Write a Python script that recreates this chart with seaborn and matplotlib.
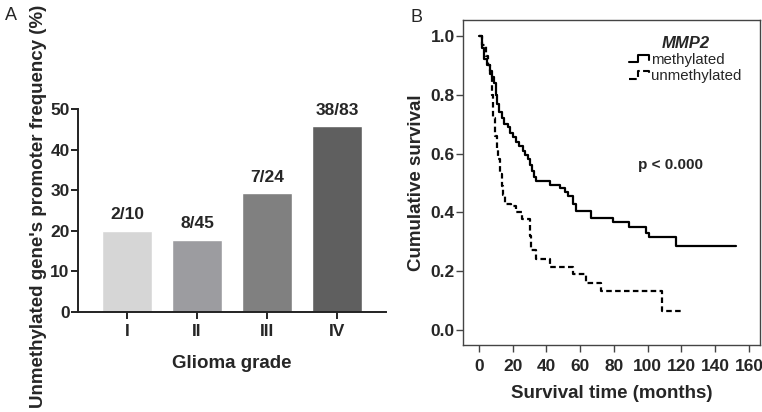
import matplotlib
matplotlib.use("agg")
import matplotlib.pyplot as plt
import pandas as pd
import seaborn as sns
from matplotlib.legend_handler import HandlerBase
from matplotlib.lines import Line2D

# Panel A data
grades = ["I", "II", "III", "IV"]
frequency = [20.0, 17.8, 29.2, 45.8]
fractions = ["2/10", "8/45", "7/24", "38/83"]
bar_colors = ["#d6d6d6", "#9c9ca0", "#808080", "#5f5f5f"]

# Panel B data (Kaplan-Meier steps)
meth_time = [0, 2, 3, 5, 6.5, 8, 9, 10, 11, 12, 13.5, 15, 17, 18.5, 20, 22, 24, 26, 27.5,
             29, 30.5, 31.5, 32.5, 34, 42, 48, 51, 53, 56, 57.5, 66.5, 79.5, 89, 99, 101,
             116.5, 152]
meth_surv = [1.0, 0.96, 0.92, 0.90, 0.88, 0.86, 0.84, 0.80, 0.77, 0.74, 0.72, 0.70, 0.69,
             0.67, 0.655, 0.64, 0.625, 0.61, 0.595, 0.58, 0.56, 0.54, 0.52, 0.505, 0.492,
             0.482, 0.47, 0.455, 0.43, 0.405, 0.38, 0.367, 0.35, 0.33, 0.315, 0.284, 0.284]
unmeth_time = [0, 2, 4, 5.5, 6.5, 7.5, 8.5, 9.5, 10.5, 11.5, 12.5, 13.5, 14.5, 15.5, 19, 22,
               25.5, 30, 31, 34, 42, 56, 63.5, 72.5, 108.5, 120.5]
unmeth_surv = [1.0, 0.97, 0.93, 0.90, 0.87, 0.80, 0.72, 0.66, 0.62, 0.58, 0.53, 0.49, 0.46,
               0.43, 0.42, 0.40, 0.376, 0.32, 0.272, 0.24, 0.215, 0.19, 0.161, 0.134, 0.066,
               0.066]

DASH = (0, (2.5, 1.5))


class StepHandler(HandlerBase):
    """Legend key drawn as a small step, like the SPSS survival legend."""

    def create_artists(self, legend, orig_handle, xdescent, ydescent, width, height,
                       fontsize, trans):
        xs = [f * width - xdescent for f in (0, 0.45, 0.45, 0.95, 0.95)]
        ys = [f * height - ydescent for f in (0.15, 0.15, 0.85, 0.85, 0.4)]
        line = Line2D(xs, ys, color=orig_handle.get_color(),
                      linestyle=orig_handle.get_linestyle(),
                      linewidth=orig_handle.get_linewidth())
        line.set_transform(trans)
        return [line]


sns.set_theme(style="ticks")
plt.rcParams["font.family"] = ["Liberation Sans", "DejaVu Sans"]

fig = plt.figure(figsize=(7.62, 4.12), dpi=100)
W, H = 762, 412

# ---- Panel A: bar chart ----
ax_a = fig.add_axes([78 / W, 1 - 312 / H, 308 / W, 203 / H])
bar_df = pd.DataFrame({"grade": grades, "freq": frequency})
sns.barplot(data=bar_df, x="grade", y="freq", hue="grade", palette=bar_colors,
            legend=False, width=0.71, saturation=1, ax=ax_a)
for cont, lab in zip(ax_a.containers, fractions):
    ax_a.bar_label(cont, labels=[lab], padding=6, fontsize=12.5, fontweight="bold")

ax_a.set_xlim(-0.7, 3.7)
ax_a.set_ylim(0, 50)
ax_a.set_yticks([0, 10, 20, 30, 40, 50])
sns.despine(ax=ax_a)
for s in ["left", "bottom"]:
    ax_a.spines[s].set_linewidth(1.4)
    ax_a.spines[s].set_color("#222222")
ax_a.tick_params(axis="both", length=5, width=1.4, color="#222222", labelsize=12.5, pad=1)
ax_a.tick_params(axis="x", pad=4)
for t in ax_a.get_xticklabels() + ax_a.get_yticklabels():
    t.set_fontweight("bold")
ax_a.set_xlabel("Glioma grade", fontsize=13.5, fontweight="bold", labelpad=11)
ax_a.set_ylabel("Unmethylated gene's promoter frequency (%)", fontsize=13.5,
                fontweight="bold")
ax_a.yaxis.set_label_coords(-31 / 308, 0.52)

# ---- Panel B: survival curves ----
ax_b = fig.add_axes([463 / W, 1 - 345 / H, 297 / W, 325 / H])
meth_df = pd.DataFrame({"time": meth_time, "surv": meth_surv})
unmeth_df = pd.DataFrame({"time": unmeth_time, "surv": unmeth_surv})
sns.lineplot(data=meth_df, x="time", y="surv", drawstyle="steps-post", color="black",
             linewidth=1.6, estimator=None, sort=False, ax=ax_b)
sns.lineplot(data=unmeth_df, x="time", y="surv", drawstyle="steps-post", color="black",
             linewidth=1.6, linestyle=DASH, estimator=None, sort=False, ax=ax_b)

ax_b.set_xlim(-9.4, 166.5)
ax_b.set_ylim(-0.051, 1.054)
ax_b.set_xticks(range(0, 161, 20))
ax_b.set_yticks([0.0, 0.2, 0.4, 0.6, 0.8, 1.0])
ax_b.set_yticklabels(["0.0", "0.2", "0.4", "0.6", "0.8", "1.0"])
for s in ax_b.spines.values():
    s.set_linewidth(1.0)
    s.set_color("#444444")
ax_b.tick_params(axis="both", length=5, width=1.0, color="#444444", labelsize=12.5)
ax_b.tick_params(axis="y", pad=1)
ax_b.tick_params(axis="x", pad=5)
for t in ax_b.get_xticklabels() + ax_b.get_yticklabels():
    t.set_fontweight("bold")
ax_b.set_xlabel("Survival time (months)", fontsize=13.5, fontweight="bold", labelpad=8)
ax_b.set_ylabel("Cumulative survival", fontsize=13.5, fontweight="bold", labelpad=4)

handles = [Line2D([], [], color="black", linewidth=1.5),
           Line2D([], [], color="black", linewidth=1.5, linestyle=(0, (2, 1.2)))]
leg = ax_b.legend(handles, ["methylated", "unmethylated"], title="MMP2", frameon=False,
                  loc="upper left", bbox_to_anchor=(160 / 297, 0.97), fontsize=10.8,
                  handlelength=1.4, handletextpad=0.1, labelspacing=0.15,
                  borderaxespad=0, handler_map={Line2D: StepHandler()})
leg.get_title().set_fontweight("bold")
leg.get_title().set_fontstyle("italic")
leg.get_title().set_fontsize(12)

ax_b.text(175 / 297, 1 - (165 - 20) / 325, "p < 0.000", transform=ax_b.transAxes,
          fontsize=11, fontweight="bold", va="center", ha="left")

# panel letters
fig.text(11 / W, 1 - 15 / H, "A", fontsize=13, ha="center", va="center")
fig.text(416 / W, 1 - 17 / H, "B", fontsize=13, ha="center", va="center")

fig.savefig("out.png", dpi=100)
